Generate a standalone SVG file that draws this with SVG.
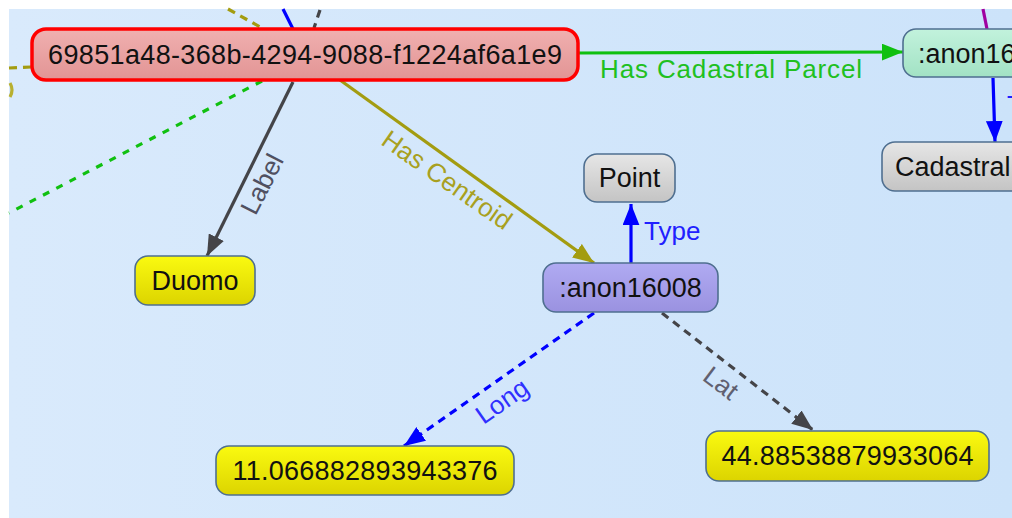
<svg xmlns="http://www.w3.org/2000/svg" width="1012" height="518" viewBox="0 0 1012 518">
<style>
.t{font-family:"Liberation Sans",Arial,sans-serif;font-size:27px;fill:#111}
.el{font-family:"Liberation Sans",Arial,sans-serif;font-size:26px}
.n{stroke:#4f6f90;stroke-width:1.6}
.e{fill:none;stroke-width:3.2}
</style>
<defs>
<linearGradient id="bg" x1="0" y1="0" x2="1" y2="0"><stop offset="0" stop-color="#d9eafc"/><stop offset="1" stop-color="#cce3fa"/></linearGradient>
<linearGradient id="gy" x1="0" y1="0" x2="0" y2="1"><stop offset="0" stop-color="#fafa10"/><stop offset="1" stop-color="#dcd400"/></linearGradient>
<linearGradient id="gg" x1="0" y1="0" x2="0" y2="1"><stop offset="0" stop-color="#e6e6e6"/><stop offset="1" stop-color="#c4c4c4"/></linearGradient>
<linearGradient id="gp" x1="0" y1="0" x2="0" y2="1"><stop offset="0" stop-color="#b0aaf2"/><stop offset="1" stop-color="#9a92e0"/></linearGradient>
<linearGradient id="gm" x1="0" y1="0" x2="0" y2="1"><stop offset="0" stop-color="#c2f2dc"/><stop offset="1" stop-color="#a2e2c4"/></linearGradient>
<linearGradient id="gr" x1="0" y1="0" x2="0" y2="1"><stop offset="0" stop-color="#f0b0b0"/><stop offset="1" stop-color="#e29494"/></linearGradient>
<marker id="aG" viewBox="0 0 20 16" refX="20" refY="8" markerWidth="21" markerHeight="17" markerUnits="userSpaceOnUse" orient="auto"><path d="M0,0 L20,8 L0,16 z" fill="#10c010"/></marker>
<marker id="aD" viewBox="0 0 20 16" refX="20" refY="8" markerWidth="21" markerHeight="17" markerUnits="userSpaceOnUse" orient="auto"><path d="M0,0 L20,8 L0,16 z" fill="#444448"/></marker>
<marker id="aO" viewBox="0 0 20 16" refX="20" refY="8" markerWidth="21" markerHeight="17" markerUnits="userSpaceOnUse" orient="auto"><path d="M0,0 L20,8 L0,16 z" fill="#a39c10"/></marker>
<marker id="aB" viewBox="0 0 20 16" refX="20" refY="8" markerWidth="21" markerHeight="17" markerUnits="userSpaceOnUse" orient="auto"><path d="M0,0 L20,8 L0,16 z" fill="#0000ff"/></marker>
</defs>
<rect x="9" y="9" width="1003" height="509" fill="url(#bg)"/>
<g id="connectors">
<line class="e" x1="228" y1="9" x2="262" y2="28" stroke="#a39c10" stroke-dasharray="8 6"/>
<line class="e" x1="9" y1="68" x2="31" y2="67" stroke="#a39c10" stroke-dasharray="8 6"/>
<path class="e" d="M10,83 Q14,90 10,97" stroke="#b8b030" stroke-width="2.5"/>
<line class="e" x1="283" y1="9" x2="293" y2="29" stroke="#0000ff"/>
<line class="e" x1="320" y1="10" x2="314" y2="28" stroke="#444448" stroke-dasharray="8 6"/>
<line class="e" x1="983" y1="9" x2="987" y2="29" stroke="#a000a0"/>
<line class="e" x1="262" y1="81" x2="9" y2="213" stroke="#10c010" stroke-width="4" stroke-dasharray="7 8"/>
<line class="e" x1="579" y1="53" x2="903" y2="52" stroke="#10c010" marker-end="url(#aG)"/>
<line class="e" x1="293" y1="82" x2="207" y2="256" stroke="#444448" marker-end="url(#aD)"/>
<line class="e" x1="340" y1="80" x2="594" y2="263" stroke="#a39c10" marker-end="url(#aO)"/>
<line class="e" x1="631" y1="263" x2="631" y2="204" stroke="#0000ff" marker-end="url(#aB)"/>
<line class="e" x1="993" y1="78" x2="995" y2="142" stroke="#0000ff" marker-end="url(#aB)"/>
<line class="e" x1="594" y1="313" x2="404" y2="446" stroke="#0000ff" stroke-dasharray="8 6" marker-end="url(#aB)"/>
<line class="e" x1="662" y1="313" x2="813" y2="430" stroke="#444448" stroke-dasharray="8 6" marker-end="url(#aD)"/>
<text class="el" x="600" y="78" fill="#20c020" textLength="262">Has Cadastral Parcel</text>
<text class="el" x="0" y="0" fill="#a8a020" text-anchor="middle" dominant-baseline="central" transform="translate(447,180) rotate(35)">Has Centroid</text>
<text class="el" x="0" y="0" fill="#505060" text-anchor="middle" dominant-baseline="central" transform="translate(262,184) rotate(-63)">Label</text>
<text class="el" x="644" y="240" fill="#2020ff">Type</text>
<text class="el" x="1007" y="114" fill="#2020ff">Type</text>
<text class="el" x="0" y="0" fill="#3030ff" text-anchor="middle" dominant-baseline="central" transform="translate(502,401) rotate(-35)">Long</text>
<text class="el" x="0" y="0" fill="#606070" text-anchor="middle" dominant-baseline="central" transform="translate(721,383) rotate(37)">Lat</text>
</g>
<g id="n-main">
<rect x="32" y="29" width="546" height="51" rx="14" fill="url(#gr)" stroke="#ff0000" stroke-width="3.5"/>
<text class="t" x="305" y="64" text-anchor="middle" textLength="514">69851a48-368b-4294-9088-f1224af6a1e9</text>
</g>
<g id="n-anon-parcel">
<rect class="n" x="903" y="29" width="140" height="48" rx="13" fill="url(#gm)"/>
<text class="t" x="918" y="63">:anon16</text>
</g>
<g id="n-cadastral">
<rect class="n" x="882" y="142" width="160" height="49" rx="13" fill="url(#gg)"/>
<text class="t" x="895" y="176">Cadastral</text>
</g>
<g id="n-point">
<rect class="n" x="584" y="154" width="91" height="48" rx="13" fill="url(#gg)"/>
<text class="t" x="629.5" y="187" text-anchor="middle">Point</text>
</g>
<g id="n-duomo">
<rect class="n" x="135" y="256" width="120" height="49" rx="13" fill="url(#gy)"/>
<text class="t" x="195" y="290" text-anchor="middle">Duomo</text>
</g>
<g id="n-anon16008">
<rect class="n" x="543" y="263" width="175" height="49" rx="13" fill="url(#gp)"/>
<text class="t" x="630.5" y="297" text-anchor="middle">:anon16008</text>
</g>
<g id="n-long">
<rect class="n" x="216" y="446" width="298" height="49" rx="13" fill="url(#gy)"/>
<text class="t" x="365" y="480" text-anchor="middle" textLength="265">11.066882893943376</text>
</g>
<g id="n-lat">
<rect class="n" x="706" y="431" width="283" height="50" rx="13" fill="url(#gy)"/>
<text class="t" x="847.5" y="465" text-anchor="middle" textLength="252">44.88538879933064</text>
</g>
</svg>
